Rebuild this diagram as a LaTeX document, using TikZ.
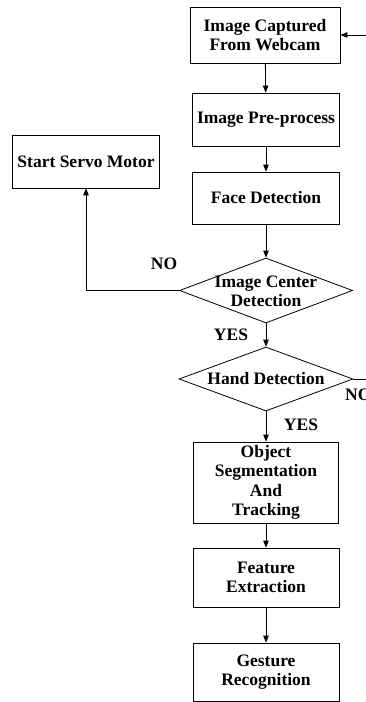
\documentclass[tikz,border=0pt]{standalone}
\usepackage{fontspec}
\setmainfont{Liberation Serif}
\usetikzlibrary{arrows.meta,shapes.geometric}
\begin{document}
\begin{tikzpicture}[x=1pt,y=-1pt,
  txt/.style={font=\fontsize{17.5}{19.5}\selectfont\bfseries, align=center, inner sep=0pt},
  box/.style={draw, line width=0.8pt, txt},
  dia/.style={draw, line width=0.8pt, diamond, inner sep=0pt},
  arr/.style={line width=0.8pt, -{Triangle[length=7pt,width=5.5pt]}},
  lbl/.style={txt}]
\useasboundingbox (0,0) rectangle (366,702);
\clip (0,0) rectangle (366,702);
\node[box, minimum width=150pt, minimum height=56pt] (b1) at (265,35) {Image Captured\\From Webcam};
\node[box, minimum width=147pt, minimum height=53pt] (b2) at (266,119.5) {Image Pre-process};
\node[box, minimum width=147pt, minimum height=52pt] (b3) at (266,198) {Face Detection};
\node[box, minimum width=147pt, minimum height=53pt] (servo) at (86,161.5) {Start Servo Motor};
\node[dia, minimum width=173pt, minimum height=65pt] (d1) at (266,290.5) {};
\node[txt] (d1t) at (266,291.5) {Image Center\\Detection};
\node[dia, minimum width=174pt, minimum height=64pt] (d2) at (266,379) {};
\node[txt] (d2t) at (266,378.5) {Hand Detection};
\node[box, minimum width=145pt, minimum height=81pt] (obj) at (266,482.5) {Object\\Segmentation\\And\\Tracking};
\node[box, minimum width=146pt, minimum height=59pt] (feat) at (266,577.5) {Feature\\Extraction};
\node[box, minimum width=146pt, minimum height=58pt] (gest) at (266,672) {Gesture\\Recognition};
\node[lbl] (no1) at (164,264) {NO};
\node[lbl] (yes1) at (231,335) {YES};
\node[lbl] (yes2) at (301,425) {YES};
\node[lbl, anchor=west] (no2) at (345,395) {NO};
\coordinate (rc) at (385,379);
\draw[arr] (b1) -- (b2);
\draw[arr] (b2) -- (b3);
\draw[arr] (b3) -- (d1);
\draw[arr] (d1) -- (d2);
\draw[arr] (d2) -- (obj);
\draw[arr] (obj) -- (feat);
\draw[arr] (feat) -- (gest);
\draw[arr] (d1.west) -| (servo.south);
\draw[arr] (d2.east) -- (rc) |- (b1.east);
\end{tikzpicture}
\end{document}
